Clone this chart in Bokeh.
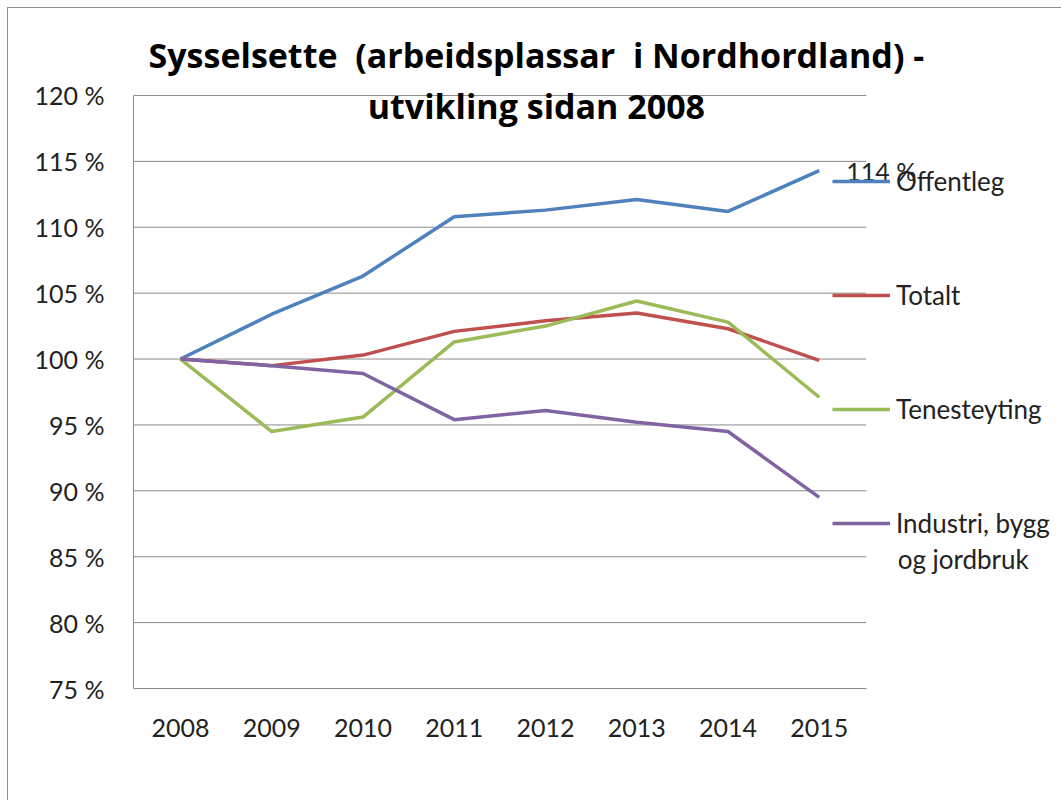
from bokeh.plotting import figure
from bokeh.models import (Range1d, FixedTicker, Legend, LegendItem, Label)
from bokeh.embed import file_html
from bokeh.resources import INLINE

# ---- data ----
years = ["2008", "2009", "2010", "2011", "2012", "2013", "2014", "2015"]
offentleg = [100.0, 103.4, 106.3, 110.8, 111.3, 112.1, 111.2, 114.3]
totalt = [100.0, 99.5, 100.3, 102.1, 102.9, 103.5, 102.3, 99.9]
tenesteyting = [100.0, 94.5, 95.6, 101.3, 102.5, 104.4, 102.8, 97.1]
industri = [100.0, 99.5, 98.9, 95.4, 96.1, 95.2, 94.5, 89.5]

series_names = ["Offentleg", "Totalt", "Tenesteyting", "Industri, bygg"]
series_name_second_line = "og jordbruk"
series_colors = ["#4F81BD", "#C0504D", "#9BBB59", "#8064A2"]
series_values = [offentleg, totalt, tenesteyting, industri]

y_ticks = [75, 80, 85, 90, 95, 100, 105, 110, 115, 120]
y_tick_labels = [f"{t} %" for t in y_ticks]

title_line1 = "Sysselsette \u00a0(arbeidsplassar \u00a0i Nordhordland) -"
title_line2 = "utvikling sidan 2008"

FONT = "Lato"
TITLE_FONT = "Open Sans"
GRID = "#8a8a8a"
TXT = "#222222"

x_idx = list(range(len(years)))
# category band limits (plot area) and the full chart area to the right
x_lo, x_hi = -0.515, len(years) - 1 + 0.515
y_lo, y_hi = y_ticks[0], y_ticks[-1]

p = figure(
    x_range=Range1d(x_lo, 9.655),
    y_range=Range1d(y_lo, 126.6),
    width=1053, height=792,
    output_backend="svg", toolbar_location=None,
    min_border_left=125, min_border_right=0,
    min_border_top=0, min_border_bottom=112,
)
p.styles = {"margin-left": "8px", "margin-top": "8px",
            "outline": "1px solid #8c8c8c"}
p.outline_line_color = None
p.background_fill_color = "white"
p.border_fill_color = "white"

# axes
p.yaxis.ticker = FixedTicker(ticks=y_ticks)
p.yaxis.major_label_overrides = {t: l for t, l in zip(y_ticks, y_tick_labels)}
p.yaxis.bounds = (y_lo, y_hi)
p.yaxis.major_tick_line_color = None
p.yaxis.minor_tick_line_color = None
p.yaxis.axis_line_color = GRID
p.yaxis.major_label_standoff = 23
p.yaxis.major_label_text_font = FONT
p.yaxis.major_label_text_font_size = "25px"
p.yaxis.major_label_text_color = TXT

p.xaxis.ticker = FixedTicker(ticks=x_idx)
p.xaxis.major_label_overrides = {i: y for i, y in zip(x_idx, years)}
p.xaxis.bounds = (x_lo, x_hi)
p.xaxis.major_tick_line_color = None
p.xaxis.minor_tick_line_color = None
p.xaxis.axis_line_color = GRID
p.xaxis.major_label_standoff = 24
p.xaxis.major_label_text_font = FONT
p.xaxis.major_label_text_font_size = "25px"
p.xaxis.major_label_text_color = TXT

p.xgrid.grid_line_color = None
p.ygrid.grid_line_color = None

# horizontal gridlines limited to the plot area
p.segment(x0=[x_lo] * len(y_ticks), x1=[x_hi] * len(y_ticks),
          y0=y_ticks, y1=y_ticks, line_color=GRID, line_width=1)

# lines
items = []
for name, vals, col in zip(series_names, series_values, series_colors):
    r = p.line(x=x_idx, y=vals, line_color=col, line_width=3.5, line_join="round")
    items.append(LegendItem(label=name, renderers=[r]))

legend = Legend(
    items=items,
    location=(699, 149),
    orientation="vertical",
    margin=0, padding=0,
    spacing=82,
    glyph_width=58, glyph_height=30, label_height=30,
    label_standoff=6,
    label_text_font=FONT, label_text_font_size="26px",
    label_text_color=TXT,
    background_fill_alpha=0, border_line_color=None,
)
p.add_layout(legend, "center")

p.add_layout(Label(x=7.86, y=84.8, text=series_name_second_line,
                   text_font=FONT, text_font_size="26px", text_color=TXT,
                   text_baseline="middle", text_align="left"))

# data label on last Offentleg value
p.add_layout(Label(x=x_idx[-1], y=offentleg[-1], x_offset=27,
                   text=f"{round(offentleg[-1])} %",
                   text_font=FONT, text_font_size="25px", text_color=TXT,
                   text_baseline="middle", text_align="left"))

# title (two lines)
p.add_layout(Label(x=3.90, y=123.05, text=title_line1, text_align="center",
                   text_baseline="alphabetic", text_font=TITLE_FONT,
                   text_font_size="34px", text_font_style="bold", text_color="black"))
p.add_layout(Label(x=3.90, y=119.18, text=title_line2, text_align="center",
                   text_baseline="alphabetic", text_font=TITLE_FONT,
                   text_font_size="34px", text_font_style="bold", text_color="black"))

open("out.html", "w").write(file_html(p, INLINE))
